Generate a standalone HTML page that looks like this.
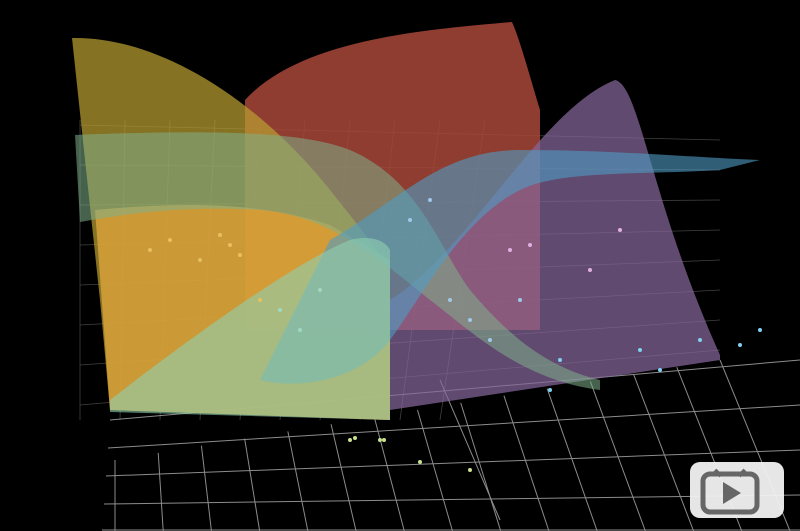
<!DOCTYPE html>
<html><head><meta charset="utf-8"><style>
html,body{margin:0;padding:0;background:#000;overflow:hidden;width:800px;height:531px;}
svg{display:block;overflow:hidden;}
</style></head><body>
<svg id="chart" width="800" height="531" viewBox="0 0 800 531" xmlns="http://www.w3.org/2000/svg">
<defs><clipPath id="frame"><rect width="800" height="531"/></clipPath></defs>
<g clip-path="url(#frame)">
<rect width="800" height="531" fill="#000"/>
<g id="floor" stroke="#bbb" stroke-width="1" opacity="0.75"></g>
<g id="backgrid" stroke="#bbb" stroke-width="0.8" opacity="0.35"></g>
<path d="M245,100 C300,40 420,30 512,22 C520,40 528,70 540,110 L540,330 L245,330 Z" fill="#a8463a" opacity="0.85"/>
<path d="M390,300 C470,250 540,110 615,80 C640,85 650,200 720,355 L720,360 L390,410 Z" fill="#86679a" opacity="0.72"/>
<path d="M72,38 C150,36 250,90 330,190 C370,240 385,260 390,270 L390,420 L110,410 L100,300 Z" fill="#b89e30" opacity="0.72"/>
<path d="M95,210 C200,200 270,205 330,225 L390,260 L390,420 L110,410 Z" fill="#dca23a" opacity="0.8"/>
<path d="M75,135 C200,130 300,130 350,150 C420,180 440,250 470,290 C520,350 560,370 600,380 L600,390 C520,380 470,330 430,300 C380,260 330,215 260,210 C180,205 120,215 80,222 Z" fill="#7fb08a" opacity="0.55"/>
<path d="M330,240 C400,200 440,150 520,150 C620,150 700,158 760,160 L720,170 C640,175 560,170 520,190 C460,220 420,300 390,340 C360,380 300,390 260,380 Z" fill="#4f9cc4" opacity="0.6"/>
<path d="M110,400 C200,330 300,260 350,240 C370,235 385,240 390,250 L390,420 L110,412 Z" fill="#8fd0b0" opacity="0.6"/>
<g id="points"></g>
<g>
<rect x="690" y="462" width="94" height="56" rx="10" fill="#f2f2f2" opacity="0.95"/>
<rect x="703" y="474" width="54" height="38" rx="7" fill="none" stroke="#666" stroke-width="5"/>
<path d="M723,482 L741,493 L723,504 Z" fill="#666"/>
<path d="M715,470 L721,476 M745,470 L739,476" stroke="#666" stroke-width="4"/>
</g>
</g>
</svg>
<script>
const ptX=[150,170,200,220,230,240,260,280,300,320,350,380,410,430,450,470,490,510,530,560,590,620,640,660,700,740,760,355,384,420,470,520,550];
const ptY=[250,240,260,235,245,255,300,310,330,290,440,440,220,200,300,320,340,250,245,360,270,230,350,370,340,345,330,438,440,462,470,300,390];
const ptC=["#e8c060","#e8c060","#e8c060","#e8c060","#e8c060","#e8c060","#e8c060","#a0d8c0","#a0d8c0","#a0d8c0","#c8e090","#c8e090","#a0c8e8","#a0c8e8","#a0c8e8","#a0c8e8","#a0c8e8","#e0b0e0","#e0b0e0","#80d0f0","#e0b0e0","#e0b0e0","#80d0f0","#80d0f0","#80d0f0","#80d0f0","#80d0f0","#c8e090","#c8e090","#c8e090","#c8e090","#a0c8e8","#80d0f0"];
const NS="http://www.w3.org/2000/svg";
const pts=document.getElementById('points');
for(let i=0;i<ptX.length;i++){
 const c=document.createElementNS(NS,'circle');
 c.setAttribute('cx',ptX[i]);c.setAttribute('cy',ptY[i]);c.setAttribute('r',2);c.setAttribute('fill',ptC[i]);
 
 
 pts.appendChild(c);
}
const fl=document.getElementById('floor');
function line(g,x1,y1,x2,y2){const l=document.createElementNS(NS,'line');l.setAttribute('x1',x1);l.setAttribute('y1',y1);l.setAttribute('x2',x2);l.setAttribute('y2',Math.min(y2,531));g.appendChild(l);}
for(let i=0;i<=14;i++){const t=i/14; line(fl,115+t*(720-115),460-t*100,115+t*(790-115),531);}
for(let j=0;j<5;j++){const y=400+j*25; line(fl,110-j*2,Math.min(y+j*3+20,530),800,Math.min(y-40+j*20,530));}
line(fl,440,380,500,520);
const bg=document.getElementById('backgrid');
for(let i=0;i<10;i++){line(bg,80+i*45,120,80+i*40,420);}
for(let j=0;j<8;j++){line(bg,80,125+j*40,720,140+j*30);}
</script>
</body></html>
